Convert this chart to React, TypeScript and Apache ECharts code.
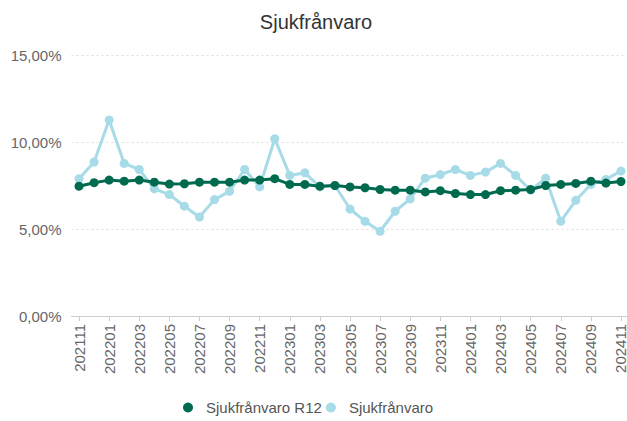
import React, { useEffect, useRef } from "react";
import * as echarts from "echarts";

const categories: string[] = [
  "202111", "202112", "202201", "202202", "202203", "202204", "202205", "202206", "202207", "202208",
  "202209", "202210", "202211", "202212", "202301", "202302", "202303", "202304", "202305", "202306",
  "202307", "202308", "202309", "202310", "202311", "202312", "202401", "202402", "202403", "202404",
  "202405", "202406", "202407", "202408", "202409", "202410", "202411",
];

const r12Values: number[] = [
  7.46, 7.66, 7.81, 7.75, 7.81, 7.69, 7.58, 7.6, 7.69, 7.69,
  7.69, 7.81, 7.81, 7.89, 7.56, 7.56, 7.46, 7.5, 7.42, 7.37,
  7.27, 7.23, 7.23, 7.13, 7.2, 7.04, 6.98, 6.98, 7.2, 7.23,
  7.27, 7.5, 7.56, 7.62, 7.75, 7.64, 7.73,
];

const monthValues: number[] = [
  7.89, 8.85, 11.27, 8.77, 8.42, 7.31, 6.98, 6.31, 5.69, 6.69,
  7.17, 8.42, 7.42, 10.19, 8.08, 8.23, 7.42, 7.5, 6.15, 5.44,
  4.87, 6.02, 6.73, 7.92, 8.13, 8.42, 8.08, 8.27, 8.77, 8.08,
  7.23, 7.92, 5.44, 6.65, 7.56, 7.85, 8.33,
];

const yTicks = { min: 0, max: 15, interval: 5 };

const DARK = "#006a4e";
const LIGHT = "#a7dbe8";

export default function App() {
  const ref = useRef<HTMLDivElement>(null);
  useEffect(() => {
    document.body.style.margin = "0";
    const chart = echarts.init(ref.current!, undefined, { renderer: "svg" });
    chart.setOption({
      animation: false,
      textStyle: { fontFamily: "Arial, 'Liberation Sans', sans-serif" },
      title: {
        text: "Sjukfrånvaro",
        left: "center",
        top: 7,
        textStyle: { fontSize: 20, fontWeight: "normal", color: "#333" },
      },
      legend: {
        bottom: 1,
        left: 178,
        icon: "circle",
        itemWidth: 26,
        itemHeight: 10,
        itemGap: 4,
        textStyle: { fontSize: 15, color: "#555" },
        data: ["Sjukfrånvaro R12", "Sjukfrånvaro"],
      },
      grid: { left: 71.5, top: 55, right: 3.5, bottom: 105, containLabel: false },
      xAxis: {
        type: "category",
        data: categories,
        boundaryGap: true,
        axisLine: { lineStyle: { color: "#ccc" } },
        axisTick: { show: true, alignWithLabel: true, interval: 1, lineStyle: { color: "#ccc" } },
        axisLabel: { rotate: 90, interval: 1, fontSize: 15, color: "#666", margin: 8 },
      },
      yAxis: {
        type: "value",
        min: yTicks.min,
        max: yTicks.max,
        interval: yTicks.interval,
        axisLine: { show: false },
        axisTick: { show: false },
        axisLabel: {
          fontSize: 15,
          color: "#666",
          margin: 10,
          formatter: (v: number) => v.toFixed(2).replace(".", ",") + "%",
        },
        splitLine: { lineStyle: { type: [2, 3], color: "#ddd" } },
      },
      series: [
        {
          name: "Sjukfrånvaro R12",
          type: "line",
          data: r12Values,
          color: DARK,
          symbol: "circle",
          symbolSize: 9,
          lineStyle: { width: 3, color: DARK },
          itemStyle: { color: DARK },
          z: 3,
        },
        {
          name: "Sjukfrånvaro",
          type: "line",
          data: monthValues,
          color: LIGHT,
          symbol: "circle",
          symbolSize: 9,
          lineStyle: { width: 3, color: LIGHT },
          itemStyle: { color: LIGHT },
          z: 2,
        },
      ],
    });
    return () => chart.dispose();
  }, []);
  return (
    <div style={{ position: "fixed", left: 0, top: 0, width: 627, height: 421, overflow: "hidden", background: "#fff" }}>
      <div ref={ref} style={{ width: 632, height: 421 }} />
    </div>
  );
}
